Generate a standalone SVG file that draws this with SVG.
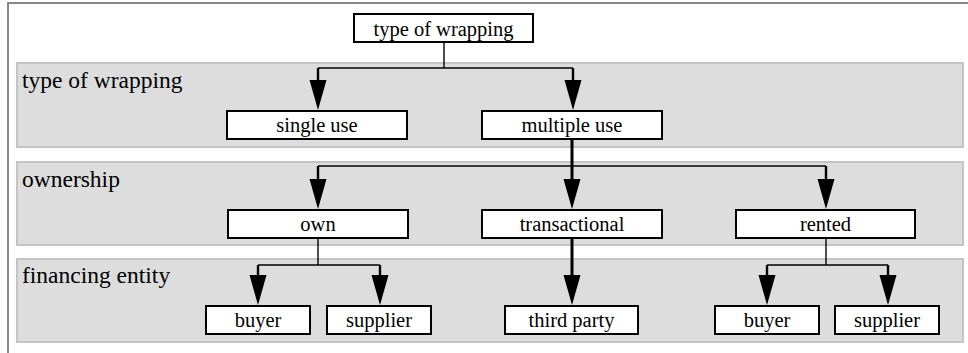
<svg xmlns="http://www.w3.org/2000/svg" width="968" height="353" viewBox="0 0 968 353">
<style>
.band{fill:#dddddd;stroke:#c4c4c4;stroke-width:2}
.frame{fill:none;stroke:#888888;stroke-width:2}
.box{fill:#ffffff;stroke:#000000;stroke-width:2}
.lbl{font-size:23.5px;fill:#000}
.txt{font-size:20.5px;fill:#000;text-anchor:middle}
.thin{fill:none;stroke:#000;stroke-width:1.4}
.mid{fill:none;stroke:#000;stroke-width:2.4}
.thick{fill:none;stroke:#000;stroke-width:3}
.arr{marker-end:url(#ah)}
</style>
<defs>
<marker id="ah" markerUnits="userSpaceOnUse" markerWidth="30" markerHeight="18" viewBox="0 -9 30 18" refX="0" refY="0" orient="auto">
<path d="M0,-8.5 L30,0 L0,8.5 Z" fill="#000"/>
</marker>
</defs>
<rect width="968" height="353" fill="#ffffff"/>
<path class="frame" d="M8,353 V3 H968"/>
<g id="bands" font-family="Liberation Serif, Times New Roman, DejaVu Serif, serif">
<rect class="band" x="17" y="63" width="946" height="84"/>
<rect class="band" x="17" y="162" width="946" height="83"/>
<rect class="band" x="17" y="259" width="946" height="83"/>
<text class="lbl" x="22" y="88">type of wrapping</text>
<text class="lbl" x="22" y="187">ownership</text>
<text class="lbl" x="22" y="283">financing entity</text>
</g>
<g id="connectors">
<path class="thin" d="M444,43 V68"/>
<path class="thin" d="M318,68 H573"/>
<path class="mid arr" d="M318,68 V80"/>
<path class="mid arr" d="M573,68 V80"/>
<path class="thick arr" d="M572,140 V179"/>
<path class="thin" d="M318,166 H826"/>
<path class="mid arr" d="M318,166 V179"/>
<path class="mid arr" d="M826,166 V179"/>
<path class="thin" d="M318,239 V265"/>
<path class="thin" d="M258,265 H380"/>
<path class="mid arr" d="M258,265 V275"/>
<path class="mid arr" d="M380,265 V275"/>
<path class="thick arr" d="M572,239 V275"/>
<path class="thin" d="M826,239 V265"/>
<path class="thin" d="M767,265 H888"/>
<path class="mid arr" d="M767,265 V275"/>
<path class="mid arr" d="M888,265 V275"/>
</g>
<g id="nodes" font-family="Liberation Serif, Times New Roman, DejaVu Serif, serif">
<g id="n-root"><rect class="box" x="354" y="14" width="179" height="28"/><text class="txt" x="443.5" y="36">type of wrapping</text></g>
<g id="n-single"><rect class="box" x="227" y="111" width="180" height="28"/><text class="txt" x="317" y="132">single use</text></g>
<g id="n-multiple"><rect class="box" x="482" y="111" width="180" height="28"/><text class="txt" x="572" y="132">multiple use</text></g>
<g id="n-own"><rect class="box" x="228" y="210" width="180" height="28"/><text class="txt" x="318" y="231">own</text></g>
<g id="n-transactional"><rect class="box" x="482" y="210" width="180" height="28"/><text class="txt" x="572" y="231">transactional</text></g>
<g id="n-rented"><rect class="box" x="736" y="210" width="179" height="28"/><text class="txt" x="825.5" y="231">rented</text></g>
<g id="n-buyer1"><rect class="box" x="206" y="306" width="104" height="28"/><text class="txt" x="258" y="327">buyer</text></g>
<g id="n-supplier1"><rect class="box" x="327" y="306" width="104" height="28"/><text class="txt" x="379" y="327">supplier</text></g>
<g id="n-thirdparty"><rect class="box" x="505" y="306" width="133" height="28"/><text class="txt" x="571.5" y="327">third party</text></g>
<g id="n-buyer2"><rect class="box" x="715" y="306" width="104" height="28"/><text class="txt" x="767" y="327">buyer</text></g>
<g id="n-supplier2"><rect class="box" x="835" y="306" width="104" height="28"/><text class="txt" x="887" y="327">supplier</text></g>
</g>
</svg>
